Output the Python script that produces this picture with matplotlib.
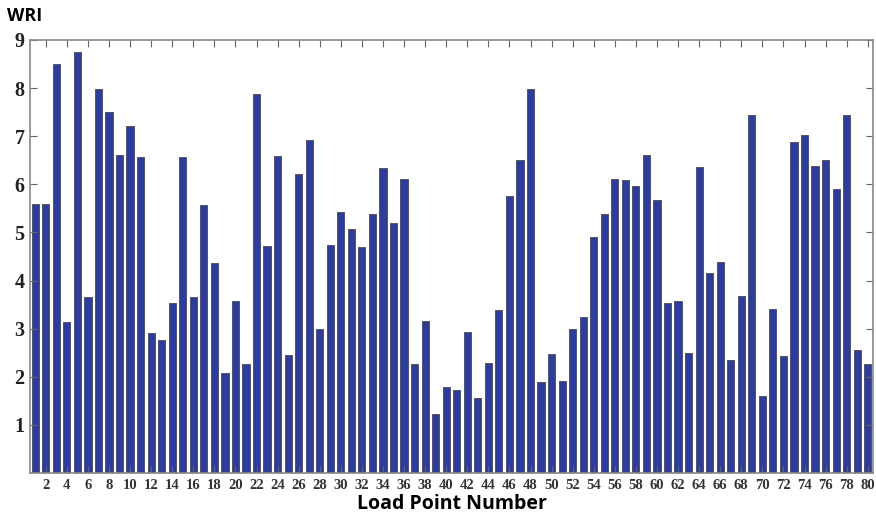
import matplotlib.pyplot as plt
import numpy as np

# WRI per load point
points = np.arange(1, 81)
wri = [5.59, 5.59, 8.50, 3.14, 8.74, 3.66, 7.99, 7.50, 6.61, 7.21,
       6.56, 2.90, 2.77, 3.53, 6.56, 3.66, 5.57, 4.37, 2.07, 3.58,
       2.26, 7.87, 4.72, 6.58, 2.45, 6.22, 6.92, 3.00, 4.73, 5.42,
       5.08, 4.70, 5.38, 6.33, 5.20, 6.12, 2.26, 3.16, 1.23, 1.79,
       1.72, 2.93, 1.55, 2.29, 3.38, 5.76, 6.51, 7.98, 1.89, 2.47,
       1.91, 2.99, 3.24, 4.91, 5.38, 6.12, 6.10, 5.97, 6.61, 5.67,
       3.53, 3.58, 2.50, 6.36, 4.15, 4.39, 2.34, 3.67, 7.44, 1.59,
       3.40, 2.43, 6.87, 7.02, 6.38, 6.50, 5.90, 7.45, 2.55, 2.26]
xticks = np.arange(2, 81, 2)
yticks = np.arange(1, 10)

fig = plt.figure(figsize=(8.76, 5.14), dpi=100)
ax = fig.add_axes([0.0342, 0.0798, 0.9624, 0.8424])
ax.bar(points, wri, width=0.68, color='#2c3ca2', edgecolor='#555555', linewidth=0.7)

ax.set_xlim(0.5, 80.5)
ax.set_ylim(0, 9)
ax.set_xticks(xticks)
ax.set_yticks(yticks)
ax.set_xticklabels([str(t) for t in xticks], fontsize=10.5, family='Liberation Serif',
                   fontweight='bold', color='#333333')
ax.set_yticklabels([str(t) for t in yticks], fontsize=14.5, family='Liberation Serif',
                   fontweight='bold', color='#222222')
ax.tick_params(direction='in', top=True, right=True, length=5, color='#666666', pad=4)
for s in ax.spines.values():
    s.set_color('#888888')
    s.set_linewidth(1.2)

ax.set_xlabel('Load Point Number', fontsize=14, fontweight='bold', family='Open Sans', labelpad=2)
fig.text(0.008, 0.96, 'WRI', fontsize=13, fontweight='bold', family='Open Sans')

plt.savefig('out.png')
